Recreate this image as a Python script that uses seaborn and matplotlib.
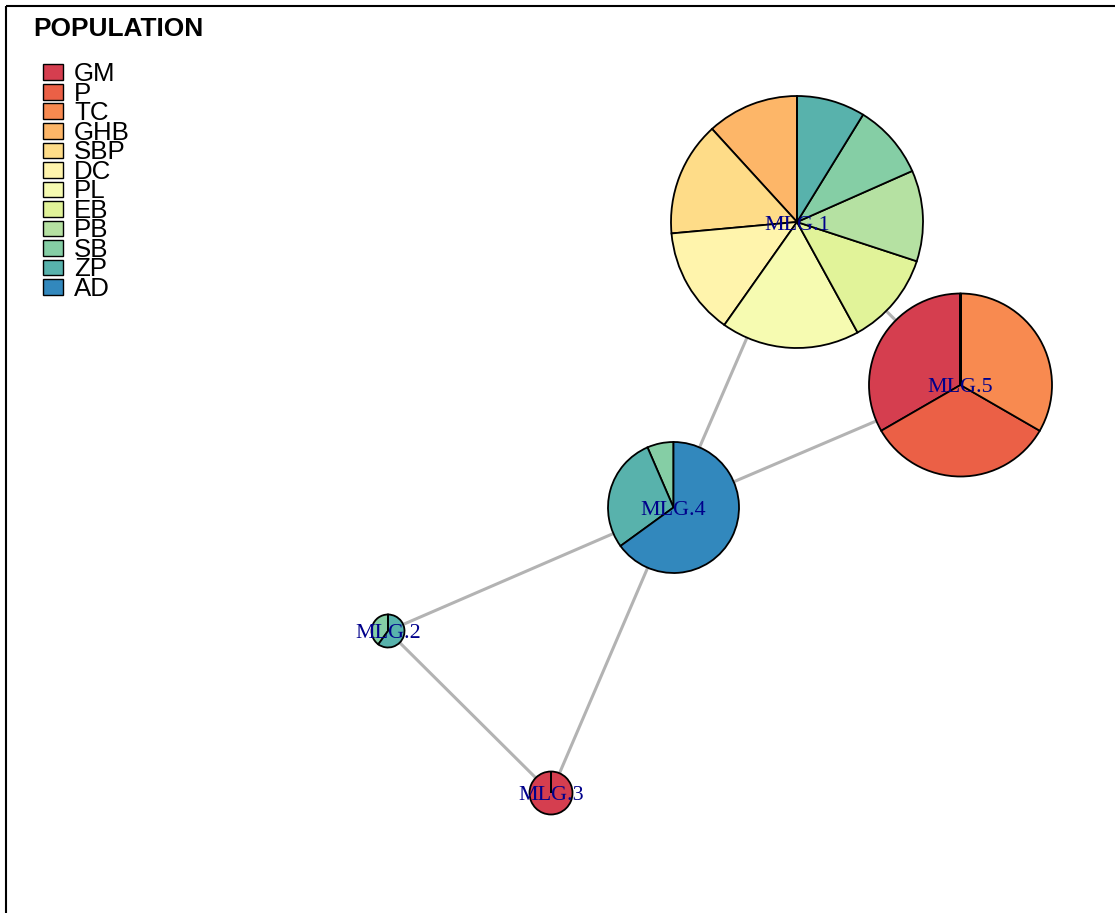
import matplotlib
matplotlib.use("Agg")
import matplotlib.pyplot as plt
import seaborn as sns
import numpy as np
import pandas as pd
from matplotlib.patches import Rectangle

# ---------------- data ----------------
populations = ["GM", "P", "TC", "GHB", "SBP", "DC", "PL", "EB", "PB", "SB", "ZP", "AD"]
mlg_names = ["MLG.1", "MLG.2", "MLG.3", "MLG.4", "MLG.5"]
#            GM   P    TC   GHB   SBP   DC    PL    EB    PB    SB   ZP    AD
mlg1 = [0,   0,   0,   11.8, 14.7, 13.8, 17.8, 12.0, 11.7, 9.6, 8.8,  0]
mlg2 = [0,   0,   0,   0,    0,    0,    0,    0,    0,    40,  60,   0]
mlg3 = [100, 0,   0,   0,    0,    0,    0,    0,    0,    0,   0,    0]
mlg4 = [0,   0,   0,   0,    0,    0,    0,    0,    0,    6.5, 28.5, 65]
mlg5 = [1,   1,   1,   0,    0,    0,    0,    0,    0,    0,   0,    0]
edges_from = ["MLG.1", "MLG.1", "MLG.4", "MLG.4", "MLG.2", "MLG.4"]
edges_to   = ["MLG.4", "MLG.5", "MLG.5", "MLG.2", "MLG.3", "MLG.3"]

table = pd.DataFrame([mlg1, mlg2, mlg3, mlg4, mlg5], index=mlg_names, columns=populations)

# ---------------- layout (pixels) ----------------
W, H = 1115, 913
node_xy = {"MLG.1": (797, 222), "MLG.2": (388, 631), "MLG.3": (551, 793),
           "MLG.4": (673.5, 507.5), "MLG.5": (960.5, 385)}
node_r = {"MLG.1": 126, "MLG.2": 16.5, "MLG.3": 21.5, "MLG.4": 65.5, "MLG.5": 91.5}

sns.set_theme(style="white")
plt.rcParams["font.family"] = ["Liberation Sans", "DejaVu Sans"]

palette = sns.blend_palette(["#D53E4F", "#F46D43", "#FDAE61", "#FEE08B", "#FFFFBF",
                             "#E6F598", "#ABDDA4", "#66C2A5", "#3288BD"], n_colors=12)

fig = plt.figure(figsize=(W / 100, H / 100), dpi=100)
ax = fig.add_axes([0, 0, 1, 1])

# edges
for a, b in zip(edges_from, edges_to):
    (x1, y1), (x2, y2) = node_xy[a], node_xy[b]
    ax.plot([x1, x2], [y1, y2], color="#B3B3B3", lw=2.2, zorder=1, solid_capstyle="butt")

# pies (y axis inverted: clockwise in data = counterclockwise on screen)
for name in mlg_names:
    vals = table.loc[name].values.astype(float)
    ax.pie(vals, colors=palette, startangle=-90, counterclock=False,
           center=node_xy[name], radius=node_r[name], normalize=True,
           wedgeprops=dict(edgecolor="black", linewidth=1.3, zorder=2))
    x, y = node_xy[name]
    ax.text(x, y + 7.5, name, ha="center", va="baseline", color="#00008B",
            fontsize=15.8, family=["Liberation Serif", "DejaVu Serif"], zorder=5)

# legend
ax.text(33, 36, "POPULATION", fontsize=18.9, fontweight="bold", ha="left", va="baseline",
        color="black", zorder=6)
for i, pop in enumerate(populations):
    yc = 72.2 + 19.55 * i
    ax.add_patch(Rectangle((43.3, yc - 7.8), 19.4, 15.6, facecolor=palette[i],
                           edgecolor="black", lw=1.0, zorder=6))
    ax.text(74, yc + 8.8, pop, fontsize=18.6, ha="left", va="baseline", color="black", zorder=6)

# frame (clipped at figure edge)
ax.add_patch(Rectangle((5.5, 6), 1300, 1300, fill=False, edgecolor="black", lw=1.5, zorder=7))

ax.set_xlim(0, W)
ax.set_ylim(H, 0)
ax.set_aspect("equal")
ax.axis("off")

fig.savefig("out.png", dpi=100)
